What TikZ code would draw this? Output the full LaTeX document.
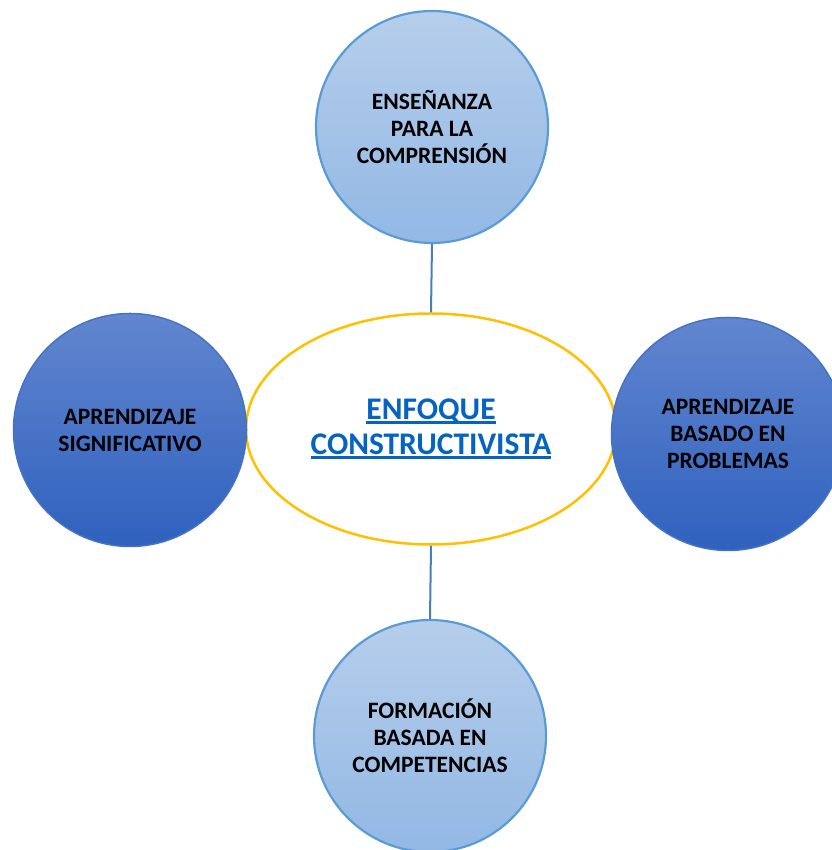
\documentclass[tikz,border=0pt]{standalone}
\usepackage{fontspec}
\setmainfont{Carlito}
\usepackage{xcolor}
\usepackage{tikz}
\usetikzlibrary{shapes.geometric, positioning}

\definecolor{lightTop}{RGB}{182,206,235}
\definecolor{lightBot}{RGB}{146,184,228}
\definecolor{lightLine}{RGB}{91,155,213}
\definecolor{darkTop}{RGB}{98,134,207}
\definecolor{darkBot}{RGB}{47,97,190}
\definecolor{darkLine}{RGB}{68,114,196}
\definecolor{goldLine}{RGB}{255,192,0}
\definecolor{linkBlue}{RGB}{5,99,193}
\definecolor{stemBlue}{RGB}{74,126,187}

% thick link-style underline
\newlength{\ulwidth}
\newcommand{\ulink}[1]{\settowidth{\ulwidth}{#1}#1\llap{\rule[-4.5pt]{\ulwidth}{2.6pt}}}

\begin{document}
\begin{tikzpicture}[
    x=1pt, y=1pt,
    % Node styles
    light/.style={circle, draw=lightLine, line width=2.2pt, minimum size=232pt,
        top color=lightTop, bottom color=lightBot, align=center,
        font=\fontsize{23.5}{27}\selectfont\bfseries},
    dark/.style={circle, draw=darkLine, line width=1.5pt, minimum size=233pt,
        top color=darkTop, bottom color=darkBot, align=center,
        font=\fontsize{23.5}{27}\selectfont\bfseries},
    focus/.style={ellipse, draw=goldLine, line width=2.5pt, fill=white,
        minimum width=370pt, minimum height=231pt, align=center, text=linkBlue,
        font=\fontsize{31.5}{35}\selectfont\bfseries},
    stem/.style={stemBlue, line width=2pt},
]

% Page frame
\useasboundingbox (0,0) rectangle (831,850);

% Central ellipse
\node[focus] (enfoque) at (431,421) {\ulink{ENFOQUE}\\\ulink{CONSTRUCTIVISTA}};

% Surrounding circles
\node[light] (ensenanza) at (432,723) {ENSEÑANZA\\PARA LA\\COMPRENSIÓN};
\node[dark] (significativo) at (130,420) {APRENDIZAJE\\SIGNIFICATIVO};
\node[dark] (problemas) at (728,416) {APRENDIZAJE\\BASADO EN\\PROBLEMAS};
\node[light] (competencias) at (430,114) {FORMACIÓN\\BASADA EN\\COMPETENCIAS};

% Stems to the centre
\draw[stem] (ensenanza.south) -- (enfoque.north);
\draw[stem] (enfoque.south) -- (competencias.north);

\end{tikzpicture}
\end{document}
